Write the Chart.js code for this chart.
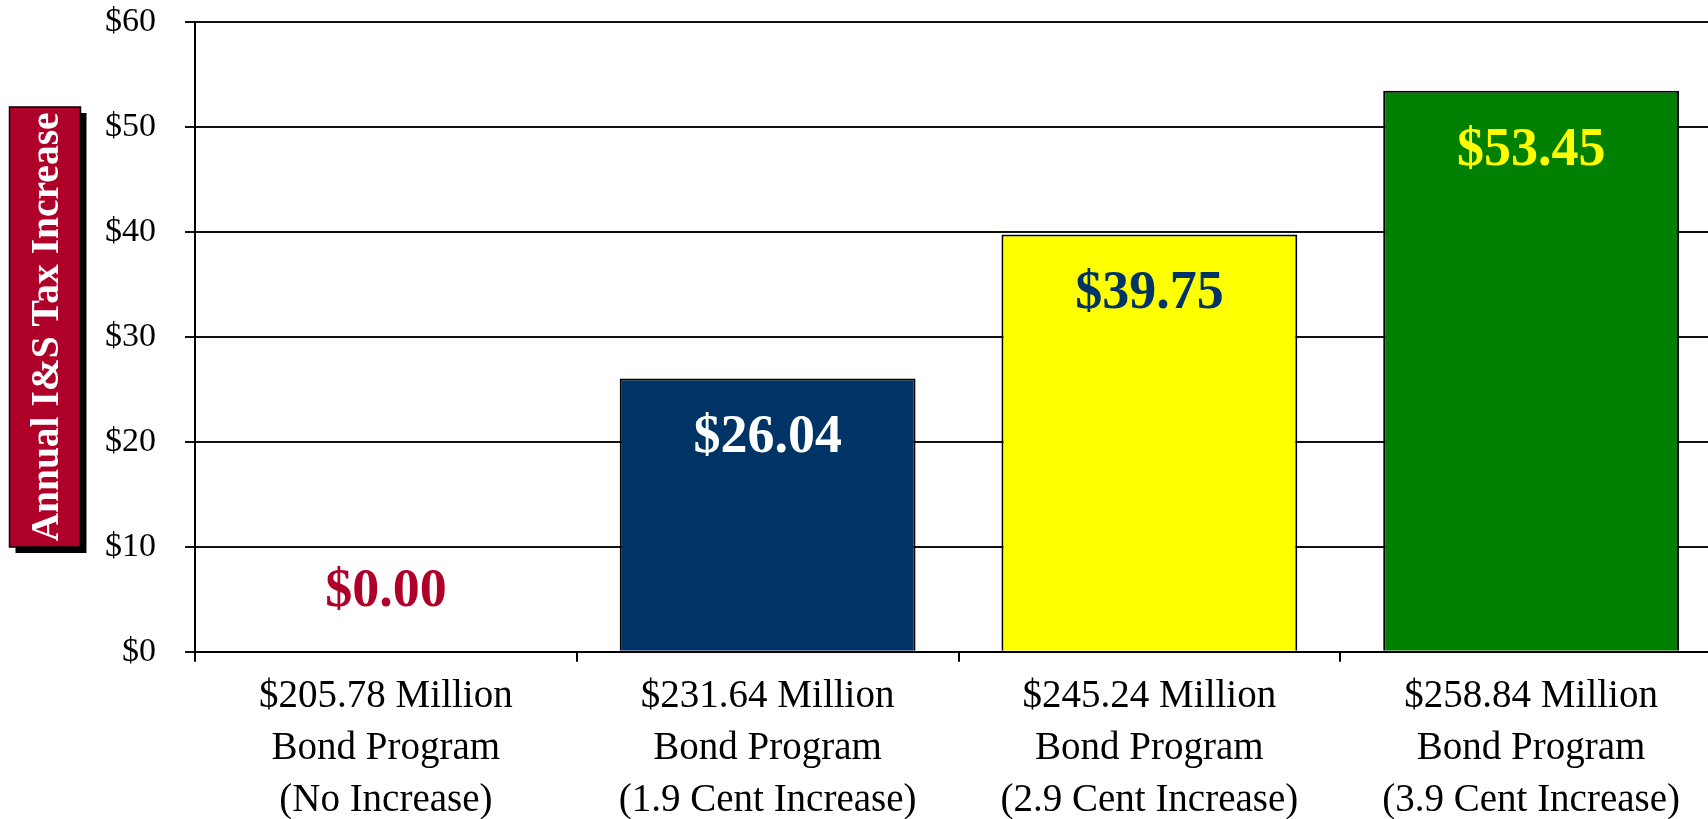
<!DOCTYPE html>
<html>
<head>
<meta charset="utf-8">
<script src="https://cdn.jsdelivr.net/npm/chart.js@4/dist/chart.umd.min.js"></script>
<style>
  html, body { margin: 0; padding: 0; background: #fff; overflow: hidden; }
  #wrap { position: relative; width: 1724px; height: 819px; }
</style>
</head>
<body>
<div id="wrap"><canvas id="c"></canvas></div>
<script>
const categories = [
  ["$205.78 Million", "Bond Program", "(No Increase)"],
  ["$231.64 Million", "Bond Program", "(1.9 Cent Increase)"],
  ["$245.24 Million", "Bond Program", "(2.9 Cent Increase)"],
  ["$258.84 Million", "Bond Program", "(3.9 Cent Increase)"]
];
const taxIncrease = [0.00, 26.04, 39.75, 53.45];
const valueLabels = ["$0.00", "$26.04", "$39.75", "$53.45"];
const barColors = ["#FFFFFF", "#003366", "#FFFF00", "#008000"];
const labelColors = ["#B0002A", "#FFFFFF", "#003366", "#FFFF00"];
const yTitle = "Annual I&S Tax Increase";
const yMin = 0, yMax = 60, yStep = 10;

const SERIF = "'Liberation Serif', 'Times New Roman', serif";

const valueLabelPlugin = {
  id: 'valueLabels',
  afterDatasetsDraw(chart) {
    const ctx = chart.ctx;
    const meta = chart.getDatasetMeta(0);
    ctx.save();
    ctx.font = "bold 54px " + SERIF;
    ctx.textAlign = 'center';
    ctx.textBaseline = 'middle';
    meta.data.forEach((bar, i) => {
      const v = taxIncrease[i];
      const y = v > 0 ? bar.y + 60 : bar.base - 60;
      ctx.fillStyle = labelColors[i];
      ctx.fillText(valueLabels[i], bar.x, y);
    });
    ctx.restore();
  }
};

const yTitlePlugin = {
  id: 'yTitleBox',
  afterDraw(chart) {
    const ctx = chart.ctx;
    const x = 9.5, y = 107, w = 71, h = 440;
    ctx.save();
    ctx.fillStyle = '#000';
    ctx.fillRect(x + 6, y + 6, w, h);
    ctx.fillStyle = '#AF0029';
    ctx.fillRect(x, y, w, h);
    ctx.lineWidth = 1.5;
    ctx.strokeStyle = '#000';
    ctx.strokeRect(x, y, w, h);
    ctx.translate(x + w / 2 + 1, y + h / 2);
    ctx.rotate(-Math.PI / 2);
    ctx.fillStyle = '#FFFFFF';
    ctx.font = "bold 39.5px " + SERIF;
    ctx.textAlign = 'center';
    ctx.textBaseline = 'middle';
    ctx.fillText(yTitle, 0, 2);
    ctx.restore();
  }
};

new Chart(document.getElementById('c'), {
  type: 'bar',
  data: {
    labels: categories,
    datasets: [{
      data: taxIncrease,
      backgroundColor: barColors,
      borderColor: '#000000',
      borderWidth: 2,
      barPercentage: 0.775,
      categoryPercentage: 1.0
    }]
  },
  options: {
    responsive: true,
    maintainAspectRatio: false,
    animation: false,
    events: [],
    layout: { padding: { top: 22, left: 0, right: 2, bottom: 0 } },
    plugins: {
      legend: { display: false },
      tooltip: { enabled: false },
      title: { display: false }
    },
    scales: {
      x: {
        offset: true,
        grid: {
          offset: true,
          drawOnChartArea: false,
          drawTicks: true,
          tickLength: 10,
          color: '#000',
          lineWidth: 2
        },
        border: { display: true, color: '#000', width: 2 },
        ticks: {
          color: '#000',
          font: { family: SERIF, size: 39, lineHeight: 1.325 },
          padding: 9.5,
          maxRotation: 0,
          minRotation: 0,
          autoSkip: false
        },
        afterFit(scale) {
          scale.height = 167.3;
          scale.paddingLeft = 0; scale.paddingRight = 0;
          scale.paddingTop = 0; scale.paddingBottom = 0;
        }
      },
      y: {
        min: yMin,
        max: yMax,
        grid: {
          color: '#111',
          lineWidth: 2,
          drawTicks: true,
          tickLength: 10
        },
        border: { display: true, color: '#000', width: 2 },
        ticks: {
          stepSize: yStep,
          color: '#000',
          font: { family: SERIF, size: 34 },
          padding: 29,
          callback: (v) => '$' + v
        },
        afterFit(scale) {
          scale.width = 195;
          scale.paddingTop = 0; scale.paddingBottom = 0;
          scale.paddingLeft = 0; scale.paddingRight = 0;
        }
      }
    }
  },
  plugins: [valueLabelPlugin, yTitlePlugin]
});
</script>
</body>
</html>
